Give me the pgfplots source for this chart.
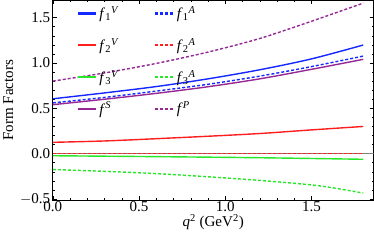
\documentclass[border=0pt]{standalone}
\usepackage{fontspec}
\setmainfont{Liberation Serif}
\usepackage{pgfplots}
\pgfplotsset{compat=1.18}
\definecolor{mblue}{RGB}{20,40,255}
\definecolor{mred}{RGB}{255,30,30}
\definecolor{mgreen}{RGB}{40,230,40}
\definecolor{mpurple}{RGB}{150,40,150}
\begin{document}
\begin{tikzpicture}[font=\fontsize{15pt}{18pt}\selectfont]
\begin{axis}[
  scale only axis,
  width=320pt, height=199pt,
  xmin=0, xmax=1.86, ymin=-0.51, ymax=1.69,
  xtick={0,0.5,1.0,1.5}, ytick={-0.5,0,0.5,1.0,1.5},
  xticklabels={0.0,0.5,1.0,1.5},
  yticklabels={$-$0.5,0.0,0.5,1.0,1.5},
  minor x tick num=4, minor y tick num=4,
  tick align=inside,
  major tick length=4pt, minor tick length=2pt,
  tick style={black, line width=0.5pt},
  axis line style={line width=0.8pt},
  tick label style={font=\fontsize{15pt}{18pt}\selectfont},
  label style={font=\fontsize{15pt}{18pt}\selectfont},
  xticklabel style={yshift=2pt},
  yticklabel style={xshift=1pt},
  xlabel={\textit{q}\textsuperscript{2} (GeV\textsuperscript{2})},
  ylabel={Form Factors},
  xlabel style={yshift=4pt},
  legend columns=2,
  legend cell align=left,
  legend style={at={(0.065,0.99)}, anchor=north west, draw=none, fill=none,
    font=\fontsize{15pt}{18pt}\selectfont,
    row sep=14pt, /tikz/every even column/.append style={column sep=33pt}},
  legend image code/.code={\draw[#1] (0cm,0cm) -- (0.65cm,0cm);},
]
\draw[gray, line width=0.6pt] (axis cs:0,0) -- (axis cs:1.86,0);
\addlegendimage{draw=mblue, line width=2.1pt}
\addlegendentry{\textit{f}\textsubscript{1}\textsuperscript{\textit{V}}}
\addlegendimage{draw=mblue, line width=2.1pt, dash pattern=on 3pt off 2pt}
\addlegendentry{\textit{f}\textsubscript{1}\textsuperscript{\textit{A}}}
\addlegendimage{draw=mred, line width=1.8pt}
\addlegendentry{\textit{f}\textsubscript{2}\textsuperscript{\textit{V}}}
\addlegendimage{draw=mred, line width=1.8pt, dash pattern=on 3pt off 2pt}
\addlegendentry{\textit{f}\textsubscript{2}\textsuperscript{\textit{A}}}
\addlegendimage{draw=mgreen, line width=1.8pt}
\addlegendentry{\textit{f}\textsubscript{3}\textsuperscript{\textit{V}}}
\addlegendimage{draw=mgreen, line width=1.8pt, dash pattern=on 3pt off 2pt}
\addlegendentry{\textit{f}\textsubscript{3}\textsuperscript{\textit{A}}}
\addlegendimage{draw=mpurple, line width=1.9pt}
\addlegendentry{\textit{f}\textsuperscript{\textit{S}}}
\addlegendimage{draw=mpurple, line width=1.9pt, dash pattern=on 3pt off 2pt}
\addlegendentry{\textit{f}\textsuperscript{\textit{P}}}
% f1V
\addplot[mblue, line width=1.4pt, smooth, forget plot] coordinates {(0,0.605)(0.3,0.67)(0.6,0.74)(0.9,0.825)(1.2,0.925)(1.5,1.045)(1.8,1.198)};
% f1A
\addplot[mblue, line width=1.4pt, dash pattern=on 3pt off 2pt, smooth, forget plot] coordinates {(0,0.56)(0.3,0.62)(0.6,0.69)(0.9,0.765)(1.2,0.855)(1.5,0.96)(1.8,1.076)};
% f2V
\addplot[mred, line width=1.4pt, smooth, forget plot] coordinates {(0,0.125)(0.3,0.14)(0.6,0.165)(0.9,0.192)(1.2,0.222)(1.5,0.262)(1.8,0.30)};
% f2A
\addplot[mred, line width=1.4pt, dash pattern=on 3pt off 2pt, forget plot] coordinates {(0,0.005)(0.9,0.005)(1.8,0.005)};
% f3V
\addplot[mgreen, line width=1.4pt, smooth, forget plot] coordinates {(0,-0.023)(0.6,-0.033)(1.2,-0.045)(1.8,-0.062)};
% f3A
\addplot[mgreen, line width=1.4pt, dash pattern=on 3pt off 2pt, smooth, forget plot] coordinates {(0,-0.175)(0.3,-0.195)(0.6,-0.22)(0.9,-0.255)(1.2,-0.295)(1.5,-0.345)(1.65,-0.385)(1.8,-0.435)};
% fS
\addplot[mpurple, line width=1.4pt, smooth, forget plot] coordinates {(0,0.54)(0.3,0.60)(0.6,0.665)(0.9,0.738)(1.2,0.825)(1.5,0.93)(1.8,1.04)};
% fP
\addplot[mpurple, line width=1.4pt, dash pattern=on 3pt off 2pt, smooth, forget plot] coordinates {(0,0.80)(0.3,0.89)(0.6,0.995)(0.9,1.12)(1.2,1.27)(1.5,1.46)(1.8,1.66)};
\end{axis}
\end{tikzpicture}
\end{document}
